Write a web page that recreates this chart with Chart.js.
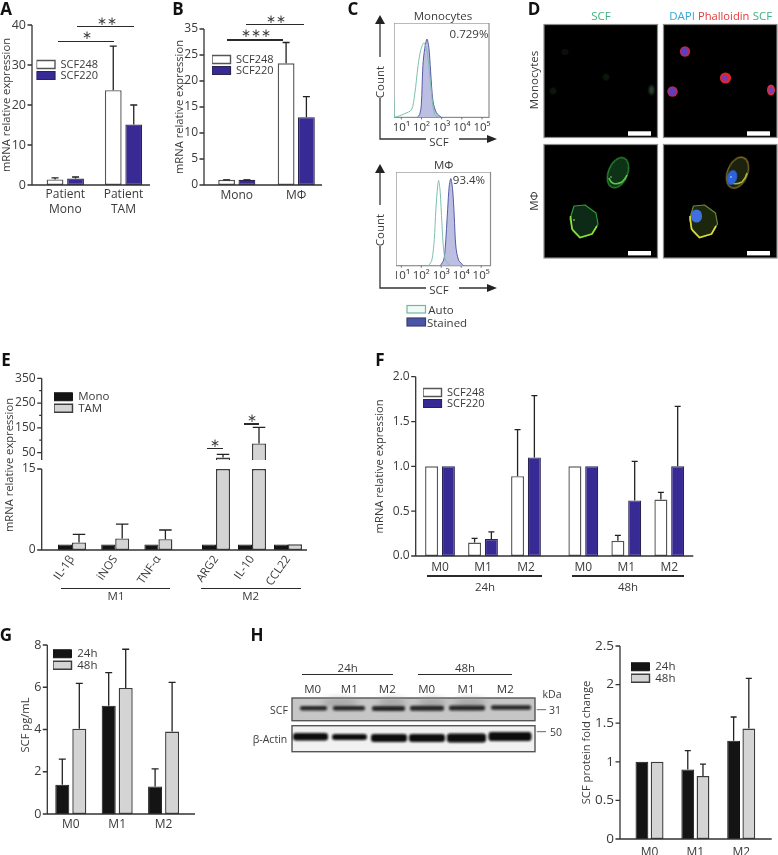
<!DOCTYPE html>
<html><head><meta charset="utf-8">
<style>
html,body{margin:0;padding:0;background:#fff;width:778px;height:855px;overflow:hidden}
canvas{position:absolute;display:block}
#labels{position:absolute;left:0;top:0;width:778px;height:855px;will-change:transform;opacity:.999}
.t{position:absolute;white-space:nowrap;transform:translate(-50%,-50%);font-family:"Open Sans",sans-serif;color:#3a3a3a;line-height:1}
.r{transform:translate(-50%,-50%) rotate(-90deg)}
svg{position:absolute;left:0;top:0}
</style>
<script src="https://cdn.jsdelivr.net/npm/chart.js@4"></script>
</head><body>
<svg id="ov" width="778" height="855" xmlns="http://www.w3.org/2000/svg">
<defs>
<filter id="b1" x="-40%" y="-40%" width="180%" height="180%"><feGaussianBlur stdDeviation="0.9"/></filter>
<filter id="b2" x="-40%" y="-40%" width="180%" height="180%"><feGaussianBlur stdDeviation="0.6"/></filter>
<filter id="b3" x="-60%" y="-60%" width="220%" height="220%"><feGaussianBlur stdDeviation="3"/></filter>
</defs>
<!-- Panel C axis arrows -->
<g stroke="#333" stroke-width="1.3" fill="none">
<path d="M380 24V57M380 98V139H426M459 139H487"/>
<path d="M380 173V205M380 246V288H426M459 288H487"/>
</g>
<g fill="#222">
<path d="M380 15L385 24H375Z"/><path d="M497 139L487 135V143Z"/>
<path d="M380 164L385 173H375Z"/><path d="M497 288L487 284V292Z"/>
</g>
<rect x="407" y="305.5" width="18.5" height="7.5" fill="#f2faf7" stroke="#6db8a5" stroke-width="1.2"/>
<rect x="407" y="318" width="18.5" height="8" fill="#4a55a8" stroke="#3a3f70" stroke-width="1.2"/>
<!-- Panel D micrographs -->
<g stroke="#8a8a8a" stroke-width="1.2" fill="#000">
<rect x="544" y="24.5" width="113.5" height="113"/>
<rect x="663.5" y="24.5" width="113.5" height="113"/>
<rect x="544" y="144.5" width="113.5" height="113.5"/>
<rect x="663.5" y="144.5" width="113.5" height="113.5"/>
</g>
<g fill="#fff">
<rect x="628" y="131.3" width="23" height="4.4"/><rect x="747" y="131.3" width="23" height="4.4"/>
<rect x="628" y="251" width="23" height="4.4"/><rect x="747" y="251" width="23" height="4.4"/>
</g>
<!-- Monocytes SCF -->
<g filter="url(#b1)">
<ellipse cx="651.5" cy="90" rx="2.6" ry="4.5" fill="#26402f"/>
<circle cx="565" cy="52" r="3.5" fill="#07100a"/><circle cx="606" cy="77" r="3.5" fill="#08120b"/><circle cx="553" cy="91" r="3.5" fill="#08120b"/>
</g>
<!-- Monocytes merged -->
<g filter="url(#b2)">
<circle cx="685" cy="51.5" r="5.2" fill="#b82c52"/><circle cx="684.5" cy="51.5" r="3.4" fill="#5a3fc0"/>
<circle cx="725.5" cy="78" r="5.6" fill="#e0262c"/><circle cx="725" cy="78" r="3" fill="#7a3bb0"/>
<circle cx="672.5" cy="91.5" r="5.2" fill="#b02c5a"/><circle cx="672" cy="91.5" r="3.4" fill="#5a3fc8"/>
<ellipse cx="771" cy="90" rx="4" ry="5.6" fill="#d8303c"/><ellipse cx="771" cy="90" rx="2.4" ry="3.6" fill="#7a40b8"/>
</g>
<!-- Macrophages SCF -->
<g stroke-linejoin="round">
<ellipse cx="618" cy="172.7" rx="9.6" ry="15.8" transform="rotate(22 618 172.7)" fill="#0b3114" stroke="#2b8a36" stroke-width="1.2" filter="url(#b2)"/>
<path d="M609 178Q612 187 622 182Q626 178 627 175" fill="none" stroke="#5cc843" stroke-width="1.6" filter="url(#b2)"/>
<path d="M574 206L585 205L596 213L598 224L592 234L580 238L573 231L570 219Z" fill="#0a2a12" stroke="#2f9a38" stroke-width="1.2" filter="url(#b2)"/>
<path d="M570.5 216L572 229L580 237.5L592 234L597 226" fill="none" stroke="#8fdc3c" stroke-width="1.7" filter="url(#b2)"/>
<circle cx="574" cy="220" r="0.8" fill="#b8ff80"/><circle cx="611" cy="177" r="0.7" fill="#b8ff80"/>
</g>
<!-- Macrophages merged -->
<g stroke-linejoin="round">
<ellipse cx="737.5" cy="172.7" rx="10" ry="16.2" transform="rotate(22 737.5 172.7)" fill="#1e2410" stroke="#7c6a28" stroke-width="1.3" filter="url(#b2)"/>
<path d="M729 178Q732 187 742 182Q746 178 747 173" fill="none" stroke="#a8b83a" stroke-width="1.5" filter="url(#b2)"/>
<ellipse cx="732" cy="177.5" rx="5" ry="7.5" transform="rotate(15 732 177.5)" fill="#2f62d8" filter="url(#b2)"/>
<path d="M693.5 206L704.5 205L715.5 213L717.5 224L711.5 234L699.5 238L692.5 231L689.5 219Z" fill="#1a2610" stroke="#6a8a30" stroke-width="1.2" filter="url(#b2)"/>
<path d="M690 216L691.5 229L699.5 237.5L711.5 234L716 226" fill="none" stroke="#dcd83a" stroke-width="1.7" filter="url(#b2)"/>
<ellipse cx="696.5" cy="216" rx="5.6" ry="6.6" fill="#3f70e0" filter="url(#b2)"/>
<circle cx="731" cy="177" r="0.8" fill="#d0ffd0"/>
</g>
<!-- Panel H blot -->
<rect x="292" y="698" width="243" height="22.7" fill="#c6c6c6" stroke="#555" stroke-width="1.4"/>
<rect x="292" y="725.7" width="243" height="26" fill="#f1f1f1" stroke="#555" stroke-width="1.4"/>
<g filter="url(#b3)" fill="#8e8e8e" opacity=".55">
<ellipse cx="340" cy="703" rx="18" ry="5"/><ellipse cx="392" cy="703" rx="14" ry="5"/><ellipse cx="432" cy="703" rx="14" ry="5"/><ellipse cx="470" cy="703" rx="16" ry="5"/>
</g>
<g fill="#141414" filter="url(#b1)" opacity=".9">
<rect x="300" y="706" width="27" height="4.6" rx="2"/><rect x="333" y="706" width="32" height="4.6" rx="2"/>
<rect x="372" y="706" width="33" height="5" rx="2"/><rect x="410" y="705.8" width="34" height="5" rx="2"/>
<rect x="449" y="705.6" width="36" height="5" rx="2"/><rect x="491" y="705.2" width="40" height="4.6" rx="2"/>
</g>
<g fill="#080808" filter="url(#b1)">
<rect x="293" y="733" width="35" height="7.4" rx="3"/><rect x="332" y="734" width="35" height="6" rx="3"/>
<rect x="371" y="734" width="36" height="8" rx="3"/><rect x="409" y="734" width="36" height="8" rx="3"/>
<rect x="447" y="733.5" width="39" height="9" rx="3"/><rect x="488.5" y="732" width="43" height="9" rx="3"/>
</g>
<path d="M536.7 709.7H546M536.7 731.7H546" stroke="#666" stroke-width="1"/>
</svg>
<div id="labels"></div>
<script>
/* ---------- Panel A ---------- */
const aCategories = [['Patient','Mono'],['Patient','TAM']];
const aSCF248 = [1.4, 23.7];
const aSCF248Err = [1.8, 34.7];
const aSCF220 = [1.6, 15.1];
const aSCF220Err = [2.0, 20.0];
const aYTicks = [0,10,20,30,40];
/* ---------- Panel B ---------- */
const bCategories = ['Mono','MΦ'];
const bSCF248 = [1, 23.4];
const bSCF248Err = [1, 27.4];
const bSCF220 = [1, 13.05];
const bSCF220Err = [1, 17];
const bYTicks = [0,5,10,15,20,25,30];
const bYTickLabels = ['0','5','10','15','20','25','35'];
/* ---------- Panel C ---------- */
const cTicks = [1,2,3,4,5];
const cTickLabels = ['10¹','10²','10³','10⁴','10⁵'];
const monoAutoLog = [0.64,0.67,0.83,1.17,1.5,1.66,1.83,1.96,2.12,2.24,2.32,2.45,2.65,2.9];
const monoAutoCount = [20,0,1,4,8,24,55,71,79,73,63,35,3,0];
const monoStainedLog = [1.79,1.91,1.99,2.07,2.16,2.27,2.37,2.45,2.57,2.74,2.98];
const monoStainedCount = [0,3,13,55,73,83,73,49,17,5,0];
const macAutoLog = [2.37,2.53,2.65,2.73,2.82,2.87,2.95,3.03,3.12,3.23,3.45];
const macAutoCount = [0,6,28,60,85,91,78,46,17,5,0];
const macStainedLog = [2.95,3.12,3.2,3.32,3.4,3.48,3.57,3.65,3.73,3.87,4.12];
const macStainedCount = [0,6,19,60,85,93,81,53,21,6,0];
/* ---------- Panel E ---------- */
const eCategories = ['IL-1β','iNOS','TNF-α','ARG2','IL-10','CCL22'];
const eMono = [1,1,1,1,1,1];
const eTAM = [1.4,2.15,2,30,87,1.05];
const eTAMErr = [2.9,4.8,3.7,43,152,null];
const eUpperTicks = [50,100,150,200,250,300,350];
const eUpperTickLabels = ['50','','150','','250','','350'];
const eLowerTicks = [0,15];
/* ---------- Panel F ---------- */
const fCategories = ['M0','M1','M2','M0','M1','M2'];
const fSCF248 = [1,0.15,0.89,1,0.17,0.63];
const fSCF248Err = [null,0.197,1.41,null,0.23,0.71];
const fSCF220 = [1,0.19,1.10,1,0.62,1.0];
const fSCF220Err = [null,0.27,1.79,null,1.055,1.67];
const fYTicks = [0,0.5,1,1.5,2];
/* ---------- Panel G ---------- */
const gCategories = ['M0','M1','M2'];
const g24h = [1.39,5.13,1.3];
const g24hErr = [2.6,6.69,2.14];
const g48h = [4.04,5.97,3.9];
const g48hErr = [6.18,7.8,6.23];
const gYTicks = [0,2,4,6,8];
/* ---------- Panel H ---------- */
const hCategories = ['M0','M1','M2'];
const h24h = [1,0.90,1.274];
const h24hErr = [null,1.144,1.58];
const h48h = [1,0.815,1.43];
const h48hErr = [null,0.97,2.08];
const hYTicks = [0,0.5,1,1.5,2,2.5];

/* ---------- Styles ---------- */
const FONT = '"Open Sans", sans-serif';
const TXT = '#3a3a3a';
const white = {backgroundColor:'#ffffff',borderColor:'#555555',borderWidth:1.4};
const purple = {backgroundColor:'#372a94',borderColor:'#2a2450',borderWidth:1.2};
const black = {backgroundColor:'#141414',borderColor:'#141414',borderWidth:1};
const gray = {backgroundColor:'#d4d4d4',borderColor:'#3c3c3c',borderWidth:1.4};

Chart.defaults.font.family = FONT;
Chart.defaults.color = TXT;
Chart.defaults.animation = false;

/* Whiskers, axis lines and legend placement use the chart's own scales */
Chart.register({
  id:'whiskers',
  afterDatasetsDraw(chart,_,o){
    if(!o.capW) return;
    const c=chart.ctx, y=chart.scales.y;
    c.save(); c.strokeStyle='#222'; c.lineWidth=1.3;
    chart.data.datasets.forEach((ds,i)=>{
      if(!ds.errTop) return;
      chart.getDatasetMeta(i).data.forEach((bar,k)=>{
        const e=ds.errTop[k];
        if(e==null||ds.data[k]==null) return;
        const py=y.getPixelForValue(e);
        c.beginPath();
        c.moveTo(bar.x,bar.y); c.lineTo(bar.x,py);
        c.moveTo(bar.x-o.capW/2,py); c.lineTo(bar.x+o.capW/2,py);
        c.stroke();
      });
    });
    c.restore();
  }
});
Chart.register({
  id:'axisLines',
  afterDraw(chart,_,o){
    if(o.axisX==null) return;
    const c=chart.ctx, y=chart.scales.y, h=o.hOrigin;
    const x0=o.axisX-h;
    c.save(); c.strokeStyle='#333'; c.lineWidth=1.3;
    c.beginPath();
    c.moveTo(x0,y.getPixelForValue(y.max)); c.lineTo(x0,y.getPixelForValue(y.min));
    y.ticks.forEach(t=>{
      const py=y.getPixelForValue(t.value);
      const len=(t.label===''?2.5:4.5);
      c.moveTo(x0-len,py); c.lineTo(x0,py);
    });
    if(o.baseline){
      const py=y.getPixelForValue(y.min);
      c.moveTo(x0,py); c.lineTo(o.axisEnd-h,py);
    }
    c.stroke(); c.restore();
  }
});
Chart.register({
  id:'legendPlace',
  afterLayout(chart,_,o){
    const l=chart.legend;
    if(!l||o.x==null) return;
    l.left=o.x; l.top=o.y; l.right=o.x+150; l.bottom=o.y+60;
  }
});
Chart.register({
  id:'facsBox',
  beforeDatasetsDraw(chart,_,o){
    if(!o.on) return;
    const c=chart.ctx,a=chart.chartArea,x=chart.scales.x;
    c.save(); c.strokeStyle='#8c8c8c'; c.lineWidth=1.2;
    c.strokeRect(a.left,a.top,a.width,a.height);
    c.strokeStyle='#555'; c.lineWidth=0.8; c.beginPath();
    x.ticks.forEach(t=>{const p=x.getPixelForValue(t.value);c.moveTo(p,a.bottom);c.lineTo(p,a.bottom+2);});
    c.stroke(); c.restore();
  }
});

function addCanvas(l,t,w,h){
  const cv=document.createElement('canvas');
  cv.width=w; cv.height=h;
  cv.style.left=l+'px'; cv.style.top=t+'px'; cv.style.width=w+'px'; cv.style.height=h+'px';
  document.body.appendChild(cv);
  return cv;
}
function spread(values,slots,n){
  const out=new Array(n).fill(null);
  values.forEach((v,i)=>{out[slots?slots[i]:i]=v;});
  return out;
}
const fixFit=(prop,val)=>s=>{s[prop]=val;s.paddingLeft=s.paddingRight=s.paddingTop=s.paddingBottom=0;};

/* Generic bar panel. Layout values are page pixels for the frame only;
   bars come from the values through the category and linear scales. */
function barPanel(p){
  const pad=10, cT=Math.round(p.top-pad);
  const slots=p.slots||null, n=p.nSlots||p.labels.length;
  const cW=Math.ceil(p.plotLeft+p.slotW*n-p.left+8);
  const cH=Math.ceil(p.bottom-cT+p.xH);
  const xLabels=spread(p.labels,slots,n).map(v=>v==null?'':v);
  const cfg={
    type:'bar',
    data:{labels:xLabels,datasets:p.series.map(s=>Object.assign({
      label:s.label,
      data:spread(s.values,slots,n),
      errTop:s.err?spread(s.err,slots,n):null,
      categoryPercentage:p.pitch*2/p.slotW,
      barPercentage:p.barW/p.pitch,
      borderSkipped:false
    },s.style))},
    options:{
      responsive:false,devicePixelRatio:1,animation:false,
      layout:{autoPadding:false,padding:{top:p.top-cT,right:cW-(p.plotLeft+p.slotW*n-p.left),left:0,bottom:0}},
      plugins:{
        tooltip:{enabled:false},
        legend:p.legend?{display:true,position:'chartArea',align:'start',labels:{
          boxWidth:18.5,boxHeight:8,padding:0,color:TXT,font:{family:FONT,size:p.legend.size||11}}}:{display:false},
        legendPlace:p.legend?{x:p.legend.x-p.left,y:p.legend.y-cT}:{},
        whiskers:{capW:p.capW},
        axisLines:{axisX:p.axisX,axisEnd:p.axisEnd,hOrigin:p.left,baseline:p.baseline!==false}
      },
      scales:{
        x:{type:'category',offset:true,grid:{display:false,drawTicks:false},border:{display:false},display:p.xH>3,
          afterFit:fixFit('height',p.xH),
          ticks:{autoSkip:false,maxRotation:p.rot||0,minRotation:p.rot||0,padding:p.xPad,color:TXT,labelOffset:p.labelOffset||0,
            font:{family:FONT,size:p.xSize||12,lineHeight:p.xLine||1.2}}},
        y:{type:'linear',min:p.yMin,max:p.yMax,grid:{display:false,drawTicks:false},border:{display:false},
          afterBuildTicks(s){s.ticks=p.yTicks.map(v=>({value:v}));},
          afterFit:fixFit('width',p.plotLeft-p.left),
          title:p.yTitle?{display:true,text:p.yTitle,color:TXT,padding:0,font:{family:FONT,size:p.titleSize||11.2}}:{display:false},
          ticks:{autoSkip:false,padding:p.plotLeft-p.axisX+6,color:TXT,font:{family:FONT,size:p.ySize||12.5},
            callback:(v,i)=>p.yTickLabels?p.yTickLabels[i]:String(v)}}
      }
    }
  };
  return new Chart(addCanvas(p.left,cT,cW,cH),cfg);
}

const YT='mRNA relative expression';
barPanel({left:0,plotLeft:36.2,axisX:32,axisEnd:150,top:25,bottom:184.5,slotW:58.2,labels:aCategories,
  series:[{label:'SCF248',values:aSCF248,err:aSCF248Err,style:white},{label:'SCF220',values:aSCF220,err:aSCF220Err,style:purple}],
  pitch:20.5,barW:16.8,yMin:0,yMax:40,yTicks:aYTicks,yTitle:YT,legend:{x:36.5,y:59},capW:7,xH:34,xPad:2,xLine:1.25});
barPanel({left:173,plotLeft:207,axisX:204,axisEnd:322,top:29,bottom:184.3,slotW:59.5,labels:bCategories,
  series:[{label:'SCF248',values:bSCF248,err:bSCF248Err,style:white},{label:'SCF220',values:bSCF220,err:bSCF220Err,style:purple}],
  pitch:20.3,barW:16.8,yMin:0,yMax:30,yTicks:bYTicks,yTickLabels:bYTickLabels,yTitle:YT,legend:{x:212,y:54},capW:7,xH:22,xPad:3,ySize:12});

/* Panel E: broken axis drawn as two stacked charts sharing the category layout */
const eSlots=[3,9,15,23,28,33];
const eBase={left:2,plotLeft:46.8,axisX:41.7,axisEnd:307,slotW:7.2,nSlots:36,slots:eSlots,labels:eCategories,pitch:14,barW:14,capW:12.5,ySize:12};
barPanel(Object.assign({},eBase,{top:378.3,bottom:459.3,
  series:[{label:'Mono',values:eMono.map(v=>v>20?v:null),style:black},
          {label:'TAM',values:eTAM.map(v=>v>20?v:null),err:eTAMErr,style:gray}],
  yMin:20,yMax:350,yTicks:eUpperTicks,yTickLabels:eUpperTickLabels,baseline:false,xH:2,xPad:0,
  legend:{x:54,y:391,size:11.5}}));
barPanel(Object.assign({},eBase,{top:469,bottom:550,
  series:[{label:'Mono',values:eMono.map(v=>Math.min(v,15)),style:black},
          {label:'TAM',values:eTAM.map(v=>Math.min(v,15)),err:eTAMErr.map(v=>v!=null&&v<=15?v:null),style:gray}],
  yMin:0,yMax:15,yTicks:eLowerTicks,xH:40,xPad:3,rot:55,xSize:11.5}));

barPanel({left:373,plotLeft:418.5,axisX:415.7,axisEnd:693.3,top:376.7,bottom:556,slotW:14.33,nSlots:19,slots:[1,4,7,11,14,17],labels:fCategories,
  series:[{label:'SCF248',values:fSCF248,err:fSCF248Err,style:white},{label:'SCF220',values:fSCF220,err:fSCF220Err,style:purple}],
  pitch:16.8,barW:13,yMin:0,yMax:2,yTicks:fYTicks,legend:{x:423,y:387},capW:6,xH:20,xPad:4,ySize:12,yTitle:YT,
  yTickLabels:fYTicks.map(v=>v.toFixed(1))});
barPanel({left:18,plotLeft:47.6,axisX:47.3,axisEnd:201.7,top:645,bottom:813.3,slotW:46.4,labels:gCategories,
  series:[{label:'24h',values:g24h,err:g24hErr,style:black},{label:'48h',values:g48h,err:g48hErr,style:gray}],
  pitch:17,barW:14,yMin:0,yMax:8,yTicks:gYTicks,legend:{x:53,y:648,size:11.5},capW:7,xH:24,xPad:3,ySize:12.5});
barPanel({left:580,plotLeft:626.6,axisX:620,axisEnd:771.7,top:646,bottom:838.3,slotW:45.85,labels:hCategories,
  series:[{label:'24h',values:h24h,err:h24hErr,style:black},{label:'48h',values:h48h,err:h48hErr,style:gray}],
  pitch:15.2,barW:12.8,yMin:0,yMax:2.5,yTicks:hYTicks,yTitle:'SCF protein fold change',legend:{x:631,y:661,size:11.5},capW:6,xH:19,xPad:6,ySize:13.5});

/* Panel C: flow-cytometry histograms */
function facs(l,t,w,h,xMin,xMax,autoX,autoY,stX,stY){
  const toPts=(xs,ys)=>xs.map((x,i)=>({x,y:ys[i]}));
  const cH=Math.ceil(h+20), cW=Math.ceil(w+8);
  new Chart(addCanvas(l,t,cW,cH),{
    type:'scatter',
    data:{datasets:[
      {label:'Auto',data:toPts(autoX,autoY),showLine:true,pointRadius:0,borderColor:'#7cc0ae',borderWidth:1,backgroundColor:'rgba(0,0,0,0)',tension:0.3,order:0},
      {label:'Stained',data:toPts(stX,stY),showLine:true,pointRadius:0,borderColor:'#555ba6',borderWidth:1,backgroundColor:'#bcbfe2',fill:'origin',tension:0.3,order:1}
    ]},
    options:{responsive:false,devicePixelRatio:1,animation:false,
      layout:{autoPadding:false,padding:{right:cW-w,top:0,left:0,bottom:0}},
      plugins:{legend:{display:false},tooltip:{enabled:false},facsBox:{on:true}},
      scales:{
        x:{type:'linear',min:xMin,max:xMax,grid:{display:false,drawTicks:false},border:{display:false},
          afterBuildTicks(s){s.ticks=cTicks.map(v=>({value:v}));},
          afterFit:fixFit('height',cH-h),
          ticks:{autoSkip:false,maxRotation:0,padding:3,color:TXT,font:{family:FONT,size:11.5},callback:(v,i)=>cTickLabels[i]}},
        y:{type:'linear',display:false,min:0,max:100}
      }
    }
  });
}
facs(394.3,23.3,95,94.4,0.636,5.347,monoAutoLog,monoAutoCount,monoStainedLog,monoStainedCount);
facs(396,172.3,94.5,93.7,0.733,5.467,macAutoLog,macAutoCount,macStainedLog,macStainedCount);

/* Text annotations and significance bars */
const sigBars=[[58.3,41.7,56],[77.3,26.3,56.7],[227.3,40,56],[246,24.7,58],[207.3,448.3,15.4],[244,424,15.3],
  [60.7,588.7,109.3],[200.7,588.7,100],[427,576,115],[572,576,112],[301.7,674.7,91],[418.3,674.7,93.4]];
const host=document.getElementById('labels');
sigBars.forEach(([x,y,w])=>{
  const d=document.createElement('div');
  d.style.cssText=`position:absolute;left:${x}px;top:${y-0.6}px;width:${w}px;height:1.3px;background:#2a2a2a`;
  host.appendChild(d);
});
const texts=[
 ['A',6,8,{s:17,b:1}],['B',178,8,{s:17,b:1}],['C',353,8,{s:17,b:1}],['D',534,8,{s:17,b:1}],
 ['E',6,359,{s:17,b:1}],['F',380,359,{s:17,b:1}],['G',6,634,{s:17,b:1}],['H',257,634,{s:17,b:1}],
 ['∗',86.7,35,{s:12}],['∗∗',106.7,21,{s:12}],['∗∗∗',256,33,{s:12}],['∗∗',276,18.5,{s:12}],
 ['∗',215,442.5,{s:12}],['∗',251.7,418,{s:12}],
 ['Monocytes',443,16,{s:11.5}],['0.729%',469,34,{s:11.5}],['MΦ',443.7,165,{s:11.5}],['93.4%',469,180,{s:11.5}],
 ['Count',380,82,{s:11.5,r:1}],['Count',380,230,{s:11.5,r:1}],['SCF',439,141.5,{s:11.5}],['SCF',439,289.5,{s:11.5}],
 ['Auto',441,309.5,{s:11.5}],['Stained',447,322.5,{s:11.5}],
 ['SCF',601,16,{s:11.5,c:'#3fb27f'}],['DAPI',682,16,{s:11.5,c:'#35a7d8'}],['Phalloidin',723.7,16,{s:11.2,c:'#e8383a'}],['SCF',762.5,16,{s:11.5,c:'#3fb27f'}],
 ['Monocytes',533.5,80,{s:11.5,r:1}],['MΦ',533.5,201,{s:11.5,r:1}],
 [YT,9,465,{s:11.2,r:1}],['SCF pg/mL',25,724.5,{s:11.2,r:1}],
 ['M1',116,596,{s:11.5}],['M2',250.7,596,{s:11.5}],
 ['24h',485,587,{s:11.5}],['48h',628,587,{s:11.5}],
 ['24h',347.7,667.7,{s:11.5}],['48h',465,667.7,{s:11.5}],
 ['M0',312.7,689,{s:11.5}],['M1',349.3,689,{s:11.5}],['M2',387.3,689,{s:11.5}],['M0',426.7,689,{s:11.5}],['M1',466,689,{s:11.5}],['M2',505.3,689,{s:11.5}],
 ['kDa',552,693.7,{s:10.5}],['SCF',279,709.7,{s:10.5}],['β-Actin',270,738.7,{s:10.5}],['31',555,709.7,{s:10.5}],['50',556,731.7,{s:10.5}]
];
texts.forEach(([s,x,y,o])=>{
  const d=document.createElement('div');
  d.className='t'+(o.r?' r':'');
  d.textContent=s;
  d.style.left=x+'px'; d.style.top=y+'px'; d.style.fontSize=o.s+'px';
  if(o.b) {d.style.fontWeight='700'; d.style.color='#111';}
  if(o.c) d.style.color=o.c;
  host.appendChild(d);
});
</script>
</body></html>
